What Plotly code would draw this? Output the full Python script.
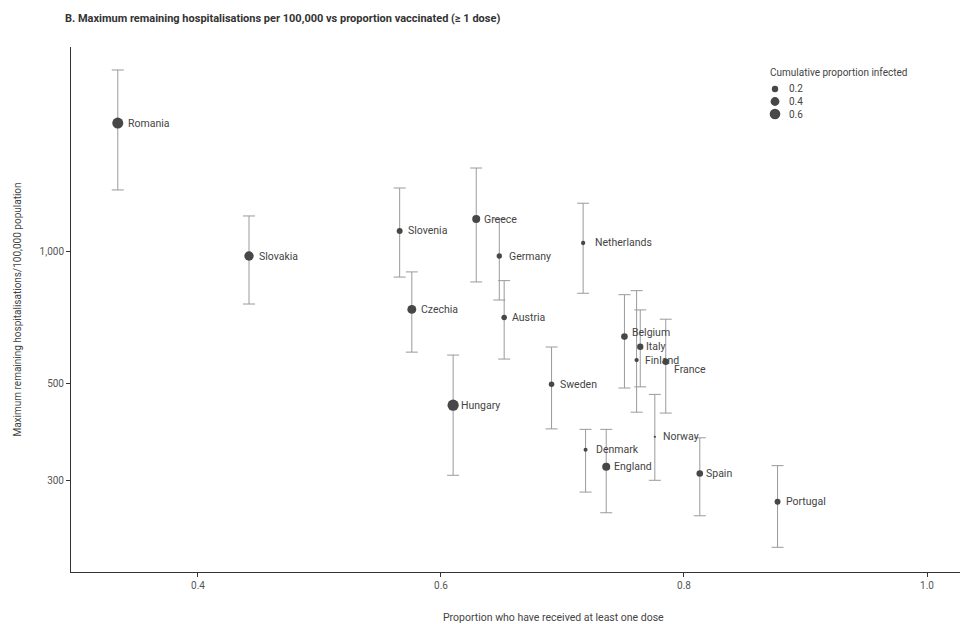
import numpy as np
import plotly.graph_objects as go

# Country estimates
countries = ["Romania", "Slovakia", "Slovenia", "Greece", "Germany", "Netherlands",
             "Czechia", "Austria", "Hungary", "Sweden", "Belgium", "Italy", "Finland",
             "France", "Norway", "Denmark", "England", "Spain", "Portugal"]
vaccinated = [0.334, 0.442, 0.566, 0.629, 0.648, 0.717, 0.576, 0.652, 0.610, 0.691,
              0.751, 0.764, 0.761, 0.785, 0.776, 0.719, 0.736, 0.813, 0.877]
hosp_max = [1958, 974, 1111, 1183, 974, 1043, 736, 705, 445, 497,
            638, 605, 564, 559, 377, 352, 322, 311, 268]
hosp_low = [1378, 757, 872, 850, 773, 801, 588, 567, 308, 393,
            487, 490, 429, 427, 300, 282, 253, 249, 211]
hosp_high = [2587, 1202, 1392, 1546, 1183, 1285, 896, 856, 579, 604,
             795, 734, 812, 699, 471, 392, 392, 375, 324]
infected = [0.72, 0.52, 0.21, 0.38, 0.17, 0.11, 0.47, 0.18, 0.75, 0.18,
            0.26, 0.24, 0.11, 0.24, 0.03, 0.095, 0.38, 0.26, 0.21]

legend_values = [0.2, 0.4, 0.6]
x_ticks = [0.4, 0.6, 0.8, 1.0]
y_ticks = [300, 500, 1000]
y_tick_text = ["300", "500", "1,000"]

FONT = "Roboto"
DOT = "#474747"
BAR = "#9a9a9a"
TEXT = "#444444"


def dot_size(v):
    # point area proportional to the proportion infected
    return 13 * np.sqrt(v)


# label nudges (px) so names sit clear of neighbouring points
nudge = {"Romania": (8, 0), "Netherlands": (10, 0), "Italy": (4, 0), "Spain": (4, 0),
         "Belgium": (6, 4), "France": (6, -8), "Czechia": (7, 0), "Germany": (8, 0),
         "Slovakia": (8, 0), "Denmark": (8, 0)}

sizes = [dot_size(v) for v in infected]

fig = go.Figure()
fig.add_trace(go.Scatter(
    x=vaccinated, y=hosp_max, mode="markers",
    marker=dict(size=sizes, color=DOT, opacity=1, line=dict(width=0)),
    error_y=dict(type="data", symmetric=False,
                 array=[h - m for h, m in zip(hosp_high, hosp_max)],
                 arrayminus=[m - l for m, l in zip(hosp_max, hosp_low)],
                 color=BAR, thickness=1, width=6),
    hoverinfo="skip", showlegend=False,
))

annotations = []
for c, x, y in zip(countries, vaccinated, hosp_max):
    dx, dy = nudge.get(c, (6, 0))
    annotations.append(dict(x=x, y=np.log10(y), xref="x", yref="y", text=c,
                            showarrow=False, xanchor="left", yanchor="middle",
                            xshift=dx, yshift=dy,
                            font=dict(family=FONT, size=10.5, color=TEXT)))

# size key
W, H = 960, 624
L, R, T, B = 71, 0, 47, 52
pw, ph = W - L - R, H - T - B


def px_to_paper(px, py):
    return (px - L) / pw, (H - B - py) / ph


shapes = []
kx, ky = px_to_paper(768, 72)
annotations.append(dict(x=kx, y=ky, xref="paper", yref="paper",
                        text="Cumulative proportion infected", showarrow=False,
                        xanchor="left", yanchor="middle",
                        font=dict(family=FONT, size=10, color=TEXT)))
for i, v in enumerate(legend_values):
    cx, cy = px_to_paper(775, 89 + 12.5 * i)
    r = dot_size(v) / 2 + 0.3
    shapes.append(dict(type="circle", xref="paper", yref="paper",
                       xsizemode="pixel", ysizemode="pixel", xanchor=cx, yanchor=cy,
                       x0=-r, x1=r, y0=-r, y1=r, fillcolor=DOT, line=dict(width=0)))
    tx, ty = px_to_paper(787, 89 + 12.5 * i)
    annotations.append(dict(x=tx, y=ty, xref="paper", yref="paper", text=f"{v:.1f}",
                            showarrow=False, xanchor="left", yanchor="middle",
                            font=dict(family=FONT, size=10, color=TEXT)))

# x-axis title
xt, yt = px_to_paper(553, 617)
annotations.append(dict(x=xt, y=yt, xref="paper", yref="paper",
                        text="Proportion who have received at least one dose",
                        showarrow=False, xanchor="center", yanchor="middle",
                        font=dict(family="Liberation Sans Narrow, " + FONT, size=10.5, color=TEXT)))

fig.update_layout(
    width=W, height=H,
    margin=dict(l=L, r=R, t=T, b=B),
    paper_bgcolor="white", plot_bgcolor="white",
    font=dict(family=FONT, color=TEXT),
    title=dict(text="<b>B. Maximum remaining hospitalisations per 100,000 vs proportion vaccinated (\u2265 1 dose)</b>",
               x=65 / W, xref="container", xanchor="left",
               y=1 - 18 / H, yref="container", yanchor="middle",
               font=dict(family=FONT, size=11, color="#333333")),
    xaxis=dict(range=[0.2955, 0.4 + (W - 198) / 1215], tickvals=x_ticks,
               ticktext=[f"{t:.1f}" for t in x_ticks],
               showgrid=False, zeroline=False, showline=True, linecolor="#333333",
               linewidth=1, ticks="outside", ticklen=4, tickcolor="#333333",
               tickfont=dict(family=FONT, size=10, color="#555555")),
    yaxis=dict(type="log", range=[2.268, 3.4652], tickvals=y_ticks, ticktext=y_tick_text,
               showgrid=False, zeroline=False, showline=True, linecolor="#333333",
               linewidth=1, ticks="outside", ticklen=4, tickcolor="#333333",
               tickfont=dict(family=FONT, size=10, color="#555555"),
               title=dict(text="Maximum remaining hospitalisations/100,000 population",
                          font=dict(family=FONT, size=10, color=TEXT), standoff=16)),
    annotations=annotations,
    shapes=shapes,
)

fig.write_html("out.html")
